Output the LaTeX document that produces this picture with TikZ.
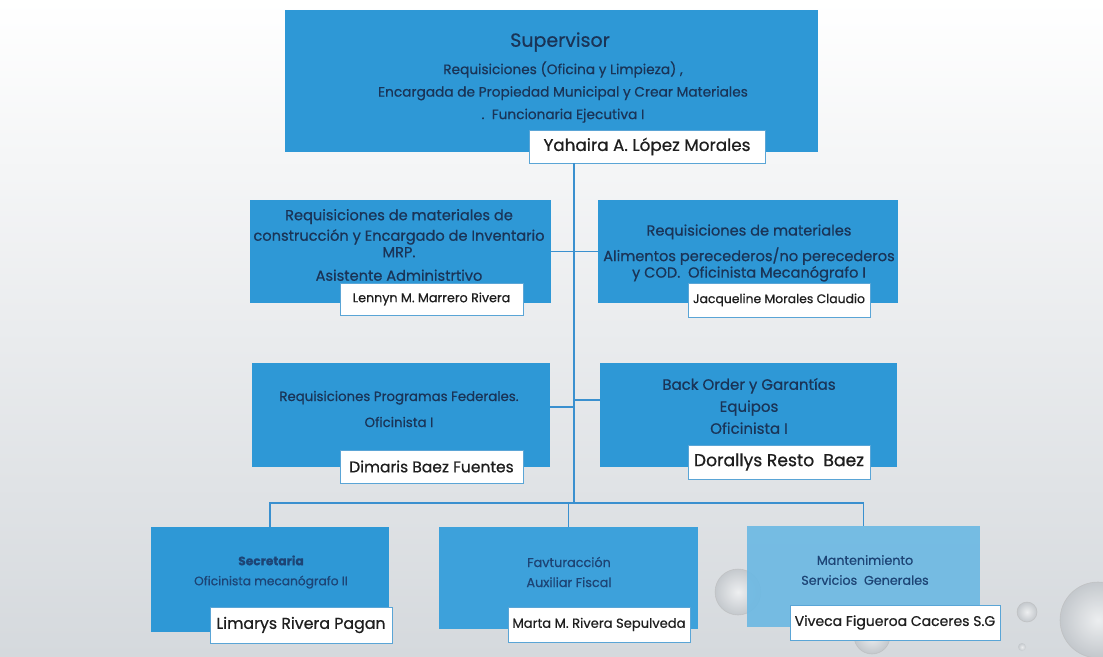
\documentclass[tikz,border=0pt]{standalone}
\usepackage{fontspec}
\setmainfont{Poppins}[FakeBold=0.6]
\newcommand\setfs[2]{\fontsize{#1}{#2}\selectfont}

\definecolor{bgbot}{HTML}{D5D9DD}
\definecolor{bgmid}{HTML}{F1F2F3}
\definecolor{boxblue}{HTML}{2E98D6}
\definecolor{boxblueB}{HTML}{3DA1DB}
\definecolor{boxblueC}{HTML}{6DB9E3}
\definecolor{inkblue}{HTML}{1A3457}
\definecolor{inklow}{HTML}{1D4475}
\definecolor{linkblue}{HTML}{3A90CF}
\definecolor{namebd}{HTML}{5AA5D6}
\definecolor{namefg}{HTML}{1E1E1E}
\definecolor{droprim}{HTML}{B4B9BE}

\begin{document}
\begin{tikzpicture}[x=1pt,y=-1pt,
  role/.style={fill=boxblue, draw=none, inner sep=0pt, outer sep=0pt, anchor=north west},
  namebox/.style={fill=white, draw=namebd, line width=0.8pt, inner sep=0pt, outer sep=0pt,
                  anchor=north west, text=namefg},
  roletext/.style={text=inkblue, align=center, inner sep=0pt},
  link/.style={draw=linkblue, line width=1.3pt},
  drop/.style={inner color=white, outer color=droprim, opacity=0.55},
  droprimline/.style={draw=gray!55, line width=0.6pt, opacity=0.6}
]
% page and background
\useasboundingbox (0,0) rectangle (1103,656);
\shade[top color=white, middle color=bgmid, bottom color=bgbot] (0,0) rectangle (1103,656);

% water drops on the backdrop
\shade[drop] (738,592) circle (23);
\draw[droprimline] (738,592) circle (23);
\shade[drop] (872,636) circle (18);
\draw[droprimline] (872,636) circle (18);
\shade[drop] (1027,612) circle (10);
\draw[droprimline] (1027,612) circle (10);
\shade[drop] (1022,647) circle (4);
\shade[drop] (1098,620) circle (38);
\draw[droprimline] (1098,620) circle (38);

% supervisor
\node[role, minimum width=533pt, minimum height=142pt] (sup) at (285,10) {};
\node[roletext, font=\setfs{19}{22}] (suptitle) at (560,42) {Supervisor};
\node[roletext, font=\setfs{13.7}{22.5}] (suptext) at (563,92)
  {Requisiciones (Oficina y Limpieza) ,\\
   Encargada de Propiedad Municipal y Crear Materiales\\
   .\ \ Funcionaria Ejecutiva I};
\node[namebox, minimum width=236pt, minimum height=33pt, font=\setfs{16.8}{18}] (yah) at (529,130)
  {Yahaira A. López Morales};

% first row
\node[role, minimum width=301pt, minimum height=103pt] (r1l) at (250,200) {};
\node[roletext, font=\setfs{14.6}{16.5}] (r1ltext) at (399,245)
  {Requisiciones de materiales de\\[4pt]
   construcción y Encargado de Inventario\\
   MRP.\\[7pt]
   Asistente Administrtivo};
\node[namebox, minimum width=183pt, minimum height=32pt, font=\setfs{12.7}{14}] (lennyn) at (340,283)
  {Lennyn M. Marrero Rivera};

\node[role, minimum width=300pt, minimum height=103pt] (r1r) at (598,200) {};
\node[roletext, font=\setfs{14.6}{16.5}] (r1rtext) at (749,253)
  {Requisiciones de materiales\\[7pt]
   Alimentos perecederos/no perecederos\\
   y COD.\ \ Oficinista Mecanógrafo I};
\node[namebox, minimum width=182pt, minimum height=34pt, font=\setfs{12.4}{14}] (jacq) at (688,283)
  {Jacqueline Morales Claudio};

% second row
\node[role, minimum width=298pt, minimum height=104pt] (r2l) at (252,363) {};
\node[roletext, font=\setfs{13.3}{26}] (r2ltext) at (399,409)
  {Requisiciones Programas Federales.\\ Oficinista I};
\node[namebox, minimum width=183pt, minimum height=33pt, font=\setfs{15.5}{17}] (dimaris) at (340,450)
  {Dimaris Baez Fuentes};

\node[role, minimum width=297pt, minimum height=104pt] (r2r) at (600,363) {};
\node[roletext, font=\setfs{15}{22}] (r2rtext) at (749,406)
  {Back Order y Garantías\\ Equipos\\ Oficinista I};
\node[namebox, minimum width=182pt, minimum height=34pt, font=\setfs{17.2}{19}] (dorallys) at (688,445)
  {Dorallys Resto\ \ Baez};

% bottom row
\node[role, minimum width=238pt, minimum height=105pt] (b1) at (151,527) {};
\node[roletext, text=inklow, font=\setfs{12.2}{20}] (b1text) at (271,572)
  {\bfseries Secretaria\\ Oficinista mecanógrafo II};
\node[namebox, minimum width=182pt, minimum height=36pt, font=\setfs{15.8}{17}] (limarys) at (210,607)
  {Limarys Rivera Pagan};

\node[role, fill=boxblueB, minimum width=259pt, minimum height=102pt] (b2) at (439,527) {};
\node[roletext, text=inklow, font=\setfs{12.8}{20}] (b2text) at (569,572)
  {Favturacción\\ Auxiliar Fiscal};
\node[namebox, minimum width=182pt, minimum height=35pt, font=\setfs{13.1}{14}] (marta) at (508,607)
  {Marta M. Rivera Sepulveda};

\node[role, fill=boxblueC, fill opacity=0.92, minimum width=233pt, minimum height=101pt] (b3) at (747,526) {};
\node[roletext, text=inklow, font=\setfs{12.7}{20}] (b3text) at (865,570)
  {Mantenimiento\\ Servicios\ \ Generales};
\node[namebox, minimum width=210pt, minimum height=35pt, font=\setfs{14}{15}] (viveca) at (790,605)
  {Viveca Figueroa Caceres S.G};

% connectors
\coordinate (hub) at (574,503);
\draw[link] (yah.south -| hub) -- (hub);
\draw[link] (r1l.east) -- (r1l.east -| hub);
\draw[link] (r1r.west) -- (r1r.west -| hub);
\draw[link] ([yshift=8pt]r2l.east) -- ([yshift=8pt]r2l.east -| hub);
\draw[link] ([yshift=15pt]r2r.west) -- ([yshift=15pt]r2r.west -| hub);
\draw[link] (b1.north) -- (b1.north |- hub) -- (b3.north |- hub) -- (b3.north);
\draw[link] (b2.north) -- (b2.north |- hub);
\end{tikzpicture}
\end{document}
